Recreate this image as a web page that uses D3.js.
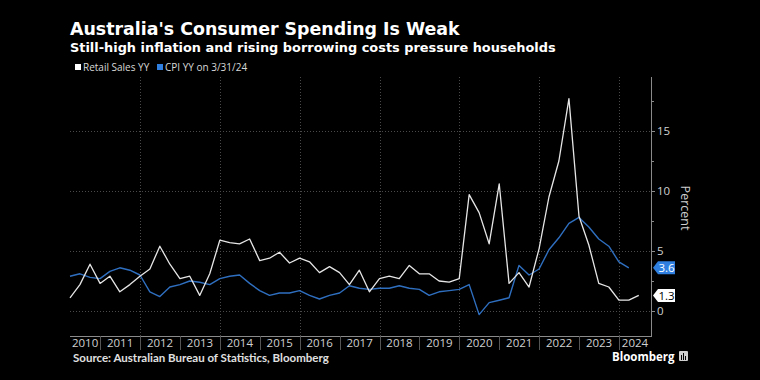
<!DOCTYPE html>
<html>
<head>
<meta charset="utf-8">
<script src="https://cdn.jsdelivr.net/npm/d3@7"></script>
<style>
    html, body { margin: 0; padding: 0; background: #000; }
    svg { display: block; }
    .title { font-family: "DejaVu Sans", sans-serif; font-weight: bold; fill: #fff; }
    .tick-label { font-family: "Open Sans", sans-serif; fill: #d0d0d0; }
</style>
</head>
<body>
<div id="chart"></div>
<script>
// Quarter-end dates, Q1 2010 .. Q2 2024
const firstQuarter = "2010-03-31";

// Retail Sales YY (%), quarterly
const retailSales = [
    1.1, 2.2, 3.9, 2.3,
    2.9, 1.6, 2.2, 2.9,
    3.5, 5.4, 3.9, 2.7,
    2.9, 1.3, 3.1, 5.9,
    5.7, 5.6, 6.0, 4.2,
    4.4, 4.9, 4.0, 4.4,
    4.1, 3.2, 3.7, 3.2,
    2.2, 3.4, 1.6, 2.7,
    2.9, 2.7, 3.8, 3.1,
    3.1, 2.5, 2.4, 2.7,
    9.7, 8.2, 5.6, 10.6,
    2.3, 3.2, 2.0, 5.2,
    9.5, 12.5, 17.7, 7.9,
    5.5, 2.3, 2.0, 0.9,
    0.9, 1.3
];

// CPI YY (%), quarterly, last on 3/31/24
const cpi = [
    2.9, 3.1, 2.8, 2.7,
    3.3, 3.6, 3.4, 3.0,
    1.6, 1.2, 2.0, 2.2,
    2.5, 2.4, 2.2, 2.7,
    2.9, 3.0, 2.3, 1.7,
    1.3, 1.5, 1.5, 1.7,
    1.3, 1.0, 1.3, 1.5,
    2.1, 1.9, 1.8, 1.9,
    1.9, 2.1, 1.9, 1.8,
    1.3, 1.6, 1.7, 1.8,
    2.2, -0.3, 0.7, 0.9,
    1.1, 3.8, 3.0, 3.5,
    5.1, 6.1, 7.3, 7.8,
    7.0, 6.0, 5.4, 4.1,
    3.6
];

const years = d3.range(2010, 2025);
const gridYears = [2012, 2014, 2016, 2018, 2020, 2022, 2024];
const yTicks = [0, 5, 10, 15];
const yMinorTicks = [2.5, 7.5, 12.5, 17.5];

const width = 760, height = 380;
const plot = { left: 70, right: 651, top: 77, bottom: 336 };

const parse = d3.utcParse("%Y-%m-%d");
const start = parse(firstQuarter);
// quarter-end dates for each point
const quarterDate = i => d3.utcDay.offset(d3.utcMonth.offset(d3.utcDay.offset(start, 1), i * 3), -1);
const yearStart = yr => new Date(Date.UTC(yr, 0, 1));

const x = d3.scaleUtc()
    .domain([start, parse("2024-10-20")])
    .range([plot.left, plot.right]);

const y = d3.scaleLinear()
    .domain([-2.083, 19.5])
    .range([plot.bottom, plot.top]);

const svg = d3.select("#chart").append("svg")
    .attr("width", width)
    .attr("height", height)
    .style("background", "#000");

// --- Titles ---
svg.append("text").attr("class", "title")
    .attr("x", 70).attr("y", 35)
    .style("font-size", "17.4px")
    .text("Australia's Consumer Spending Is Weak");

svg.append("text").attr("class", "title")
    .attr("x", 70).attr("y", 52)
    .style("font-size", "12.9px")
    .text("Still-high inflation and rising borrowing costs pressure households");

// --- Legend ---
const legendItems = [
    { label: "Retail Sales YY", color: "#ffffff", x: 75 },
    { label: "CPI YY on 3/31/24", color: "#2f7fe0", x: 157 }
];
const legend = svg.append("g");
legendItems.forEach(item => {
    legend.append("rect")
        .attr("x", item.x).attr("y", 64)
        .attr("width", 6).attr("height", 6)
        .attr("fill", item.color);
    legend.append("text")
        .attr("x", item.x + 8).attr("y", 71)
        .style("font-family", "Open Sans, sans-serif")
        .style("font-size", "10px")
        .attr("fill", "#d8d8d8")
        .text(item.label);
});

// --- Grid ---
const grid = svg.append("g")
    .attr("stroke", "#4a4a4a")
    .attr("stroke-width", 1)
    .attr("stroke-dasharray", "1,2");

grid.selectAll(".hgrid")
    .data(yTicks)
    .join("line")
    .attr("x1", plot.left).attr("x2", plot.right)
    .attr("y1", d => Math.round(y(d)) + 0.5)
    .attr("y2", d => Math.round(y(d)) + 0.5);

grid.selectAll(".vgrid")
    .data(gridYears)
    .join("line")
    .attr("x1", d => Math.round(x(yearStart(d))) + 0.5)
    .attr("x2", d => Math.round(x(yearStart(d))) + 0.5)
    .attr("y1", plot.top).attr("y2", plot.bottom);

// --- X axis ---
svg.append("line")
    .attr("x1", plot.left).attr("x2", plot.right)
    .attr("y1", plot.bottom + 0.5).attr("y2", plot.bottom + 0.5)
    .attr("stroke", "#8a8a8a");

const xAxis = svg.append("g");
xAxis.selectAll("line")
    .data(years.slice(1))
    .join("line")
    .attr("x1", d => Math.round(x(yearStart(d))) + 0.5)
    .attr("x2", d => Math.round(x(yearStart(d))) + 0.5)
    .attr("y1", plot.bottom).attr("y2", plot.bottom + 14)
    .attr("stroke", "#555");

xAxis.selectAll("text")
    .data(years)
    .join("text")
    .attr("class", "tick-label")
    .attr("x", d => {
        const a = Math.max(plot.left, x(yearStart(d)));
        const b = Math.min(plot.right, x(yearStart(d + 1)));
        return (a + b) / 2;
    })
    .attr("y", 347)
    .attr("text-anchor", "middle")
    .style("font-size", "11.5px")
    .text(d => d);

// --- Right Y axis ---
svg.append("line")
    .attr("x1", plot.right + 0.5).attr("x2", plot.right + 0.5)
    .attr("y1", plot.top).attr("y2", plot.bottom + 1)
    .attr("stroke", "#8a8a8a");

const yAxis = svg.append("g");
yAxis.selectAll(".major")
    .data(yTicks)
    .join("line")
    .attr("x1", plot.right).attr("x2", plot.right + 4)
    .attr("y1", d => Math.round(y(d)) + 0.5)
    .attr("y2", d => Math.round(y(d)) + 0.5)
    .attr("stroke", "#8a8a8a");
yAxis.selectAll(".minor")
    .data(yMinorTicks)
    .join("line")
    .attr("x1", plot.right).attr("x2", plot.right + 3)
    .attr("y1", d => Math.round(y(d)) + 0.5)
    .attr("y2", d => Math.round(y(d)) + 0.5)
    .attr("stroke", "#8a8a8a");
yAxis.selectAll("text")
    .data(yTicks)
    .join("text")
    .attr("class", "tick-label")
    .attr("x", plot.right + 6)
    .attr("y", d => y(d))
    .attr("dy", "0.36em")
    .style("font-size", "11.5px")
    .text(d => d);

svg.append("text")
    .attr("class", "tick-label")
    .attr("transform", `translate(${plot.right + 30},${208}) rotate(90)`)
    .attr("text-anchor", "middle")
    .style("font-size", "12.5px")
    .text("Percent");

// --- Lines ---
const line = d3.line()
    .x((d, i) => x(quarterDate(i)))
    .y(d => y(d));

svg.append("path")
    .datum(cpi)
    .attr("fill", "none")
    .attr("stroke", "#2f6fc0")
    .attr("stroke-width", 1.4)
    .attr("stroke-linejoin", "round")
    .attr("d", line);

svg.append("path")
    .datum(retailSales)
    .attr("fill", "none")
    .attr("stroke", "#e6e6e6")
    .attr("stroke-width", 1.3)
    .attr("stroke-linejoin", "round")
    .attr("d", line);

// --- Last value tags ---
function valueTag(value, fill, textColor) {
    const cy = y(value);
    const g = svg.append("g").attr("transform", `translate(${plot.right + 2},${cy})`);
    g.append("path")
        .attr("d", "M0,0 L5,-6.5 L22,-6.5 L22,6.5 L5,6.5 Z")
        .attr("fill", fill);
    g.append("text")
        .attr("x", 13.5).attr("y", 0)
        .attr("dy", "0.36em")
        .attr("text-anchor", "middle")
        .style("font-family", "Open Sans, sans-serif")
        .style("font-size", "11.5px")
        .attr("fill", textColor)
        .text(value.toFixed(1));
}
valueTag(cpi[cpi.length - 1], "#2f7fe0", "#ffffff");
valueTag(retailSales[retailSales.length - 1], "#ffffff", "#000000");

// --- Footer ---
svg.append("text")
    .attr("x", 73).attr("y", 362)
    .style("font-family", "Lato, sans-serif")
    .style("font-weight", "bold")
    .style("font-size", "11.5px")
    .attr("fill", "#e0e0e0")
    .text("Source: Australian Bureau of Statistics, Bloomberg");

svg.append("text")
    .attr("x", 612).attr("y", 361)
    .style("font-family", "Open Sans, sans-serif")
    .style("font-weight", "bold")
    .style("font-size", "11.5px")
    .attr("fill", "#ffffff")
    .text("Bloomberg");

const logo = svg.append("g").attr("transform", "translate(679,351)");
logo.append("rect").attr("width", 9).attr("height", 10).attr("rx", 1).attr("fill", "#cfcfcf");
logo.selectAll(".bar")
    .data([5, 7, 4])
    .join("rect")
    .attr("x", (d, i) => 2 + i * 2)
    .attr("y", d => 9 - d)
    .attr("width", 1)
    .attr("height", d => d)
    .attr("fill", "#000");
</script>
</body>
</html>
